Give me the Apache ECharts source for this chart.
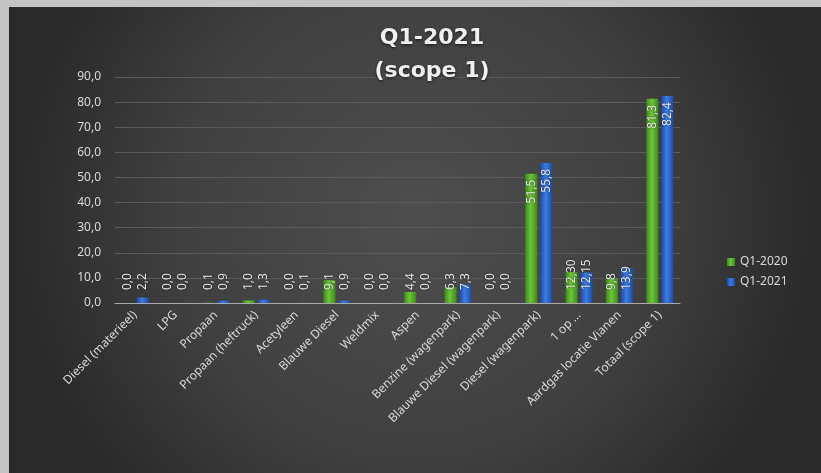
<!DOCTYPE html>
<html>
<head>
<meta charset="utf-8">
<script src="https://cdn.jsdelivr.net/npm/echarts@6/dist/echarts.min.js"></script>
<style>
html,body{margin:0;padding:0;background:#c3c3c3;width:821px;height:473px;overflow:hidden;}
#chart{position:absolute;left:9px;top:7px;width:812px;height:466px;}
</style>
</head>
<body>
<div id="chart"></div>
<script>
const categories = ["Diesel (materieel)", "LPG", "Propaan", "Propaan (heftruck)", "Acetyleen", "Blauwe Diesel", "Weldmix", "Aspen", "Benzine (wagenpark)", "Blauwe Diesel (wagenpark)", "Diesel (wagenpark)", "1 op …", "Aardgas locatie Vianen", "Totaal (scope 1)"];
const q2020 = [0.0, 0.0, 0.1, 1.0, 0.0, 9.1, 0.0, 4.4, 6.3, 0.0, 51.5, 12.30, 9.8, 81.3];
const q2021 = [2.2, 0.0, 0.9, 1.3, 0.1, 0.9, 0.0, 0.0, 7.3, 0.0, 55.8, 12.15, 13.9, 82.4];
const decimals = [1, 1, 1, 1, 1, 1, 1, 1, 1, 1, 1, 2, 1, 1];
const yTicks = { min: 0, max: 90, interval: 10 };

const fmt = (v, d) => v.toFixed(d).replace('.', ',');

function barGrad(edge, mid) {
  return new echarts.graphic.LinearGradient(0, 0, 1, 0, [
    { offset: 0, color: edge }, { offset: 0.45, color: mid }, { offset: 1, color: edge }
  ]);
}

function makeData(vals) {
  return vals.map((v, i) => {
    const big = v > 20;
    return {
      value: v,
      label: big
        ? { position: 'insideTop', distance: 6, align: 'right', verticalAlign: 'middle' }
        : { position: 'insideBottom', distance: 13, align: 'left', verticalAlign: 'middle' }
    };
  });
}

const labelBase = {
  show: true,
  rotate: 90,
  color: '#e6e6e6',
  fontFamily: 'Noto Sans',
  fontSize: 12,
  textShadowColor: 'rgba(0,0,0,0.6)',
  textShadowBlur: 2,
  formatter: p => fmt(p.value, decimals[p.dataIndex])
};

const chart = echarts.init(document.getElementById('chart'));
chart.setOption({
  animation: false,
  backgroundColor: new echarts.graphic.RadialGradient(0.5, 0.45, 0.85, [
    { offset: 0, color: '#4e4e4e' },
    { offset: 0.6, color: '#404040' },
    { offset: 1, color: '#2a2a2a' }
  ]),
  title: {
    text: 'Q1-2021\n(scope 1)',
    left: 423, top: 15, textAlign: 'center', padding: 0,
    textStyle: {
      color: '#f0f0f0', fontFamily: 'DejaVu Sans', fontWeight: 'bold',
      fontSize: 22, lineHeight: 33,
      textShadowColor: 'rgba(0,0,0,0.7)', textShadowBlur: 3, textShadowOffsetY: 1
    }
  },
  legend: {
    orient: 'vertical', left: 713, top: 244, itemWidth: 8, itemHeight: 8, itemGap: 8,
    icon: 'rect',
    textStyle: { color: '#d9d9d9', fontFamily: 'Noto Sans', fontSize: 12 },
    data: ['Q1-2020', 'Q1-2021']
  },
  grid: { left: 106, right: 141, top: 70, bottom: 170 },
  xAxis: {
    type: 'category', data: categories,
    axisLine: { lineStyle: { color: '#a8a8a8', width: 1 } },
    axisTick: { show: false },
    axisLabel: { interval: 0, rotate: 45, margin: 10, color: '#d9d9d9', fontFamily: 'Noto Sans', fontSize: 12 }
  },
  yAxis: {
    type: 'value', min: yTicks.min, max: yTicks.max, interval: yTicks.interval,
    axisLine: { show: false }, axisTick: { show: false },
    splitLine: { lineStyle: { color: '#5a5a5a', width: 1 } },
    axisLabel: { margin: 14, color: '#d9d9d9', fontFamily: 'Noto Sans', fontSize: 12, formatter: v => fmt(v, 1) }
  },
  series: [
    {
      name: 'Q1-2020', type: 'bar', barWidth: 12, barGap: '25%',
      itemStyle: { color: barGrad('#3e8a1c', '#6cc43a') },
      label: labelBase,
      data: makeData(q2020)
    },
    {
      name: 'Q1-2021', type: 'bar', barWidth: 12, barGap: '25%',
      itemStyle: { color: barGrad('#1d4aa6', '#3c7de0') },
      label: labelBase,
      data: makeData(q2021)
    }
  ]
});
</script>
</body>
</html>
